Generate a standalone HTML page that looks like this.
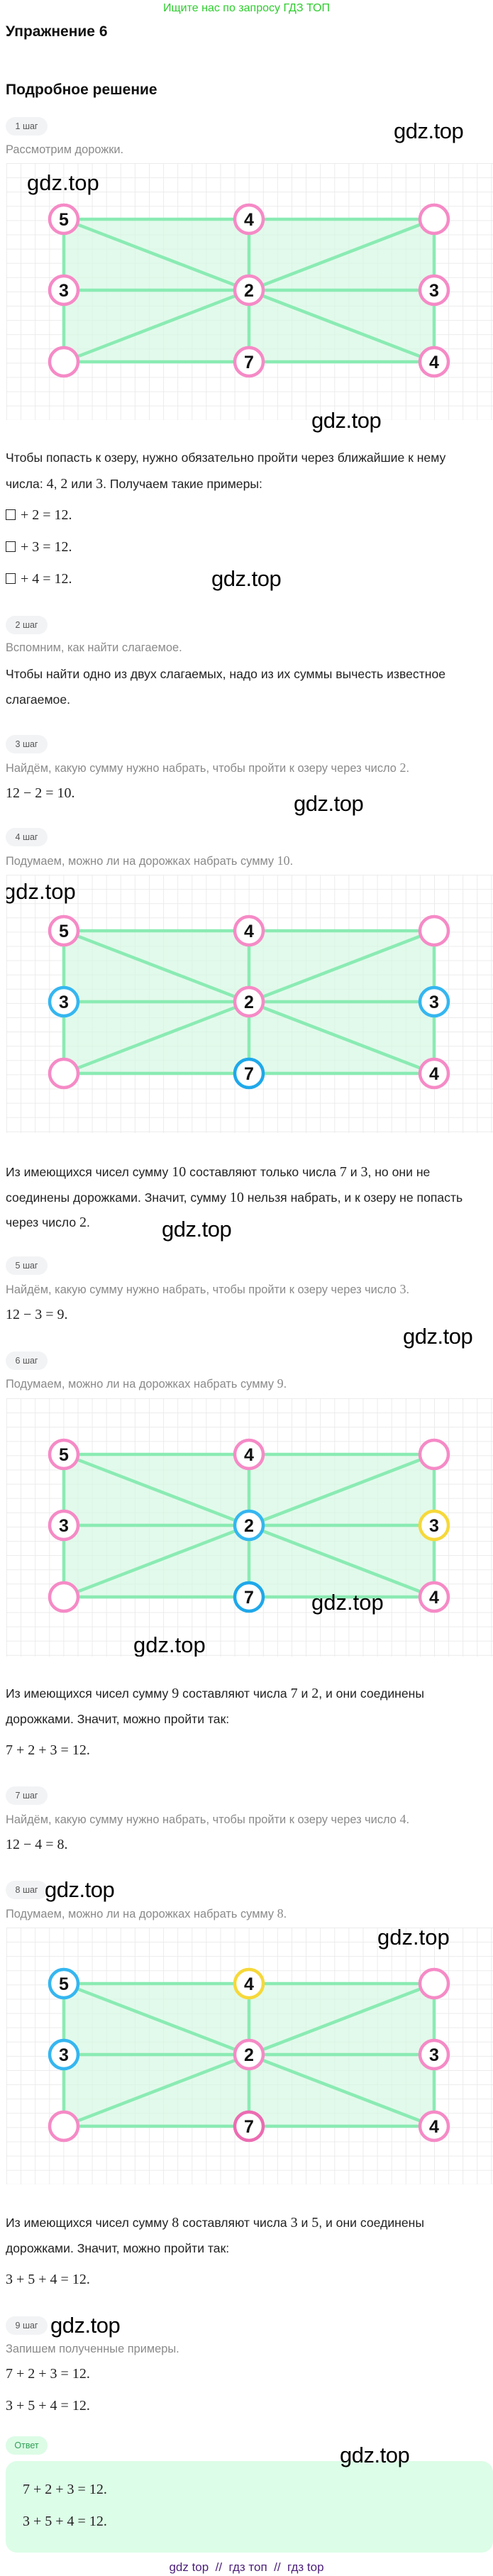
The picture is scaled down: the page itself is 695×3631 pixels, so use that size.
<!DOCTYPE html>
<html><head><meta charset="utf-8">
<style>
*{margin:0;padding:0;box-sizing:border-box}
body{width:695px;height:3631px;position:relative;background:#fff;font-family:"Liberation Sans",sans-serif;color:#1f1f1f;overflow:hidden}
.a{position:absolute;white-space:nowrap}
.t{position:absolute;left:8px;white-space:nowrap;font-size:17.6px;line-height:24px;height:24px;color:#222}
.g{position:absolute;left:8px;white-space:nowrap;font-size:16.4px;line-height:22px;height:22px;color:#8a8a8a}
.m{font-family:"Liberation Serif",serif;font-size:20px}
.eq{position:absolute;left:8px;white-space:nowrap;font-family:"Liberation Serif",serif;font-size:20px;line-height:26px;height:26px;color:#222}
.b{position:absolute;left:8px;width:59px;height:26px;border-radius:13px;background:#f2f3f5;color:#555;font-size:12.5px;line-height:26px;text-align:center}
.w{position:absolute;white-space:nowrap;font-size:31px;line-height:36px;height:36px;color:#000;letter-spacing:-0.5px}
.sq{display:inline-block;width:14px;height:15px;border:1.3px solid #222;vertical-align:-1px;margin-right:2px}
svg.d{position:absolute;left:9px}
</style></head><body>

<div class="a" style="left:0;width:695px;text-align:center;top:2px;font-size:16px;line-height:20px;color:#2ecc2e">Ищите нас по запросу ГДЗ ТОП</div>
<div class="a" style="left:8px;top:32px;font-size:21px;line-height:26px;font-weight:bold;color:#111">Упражнение 6</div>
<div class="a" style="left:8px;top:114px;font-size:21px;line-height:26px;font-weight:bold;color:#111">Подробное решение</div>

<div class="b" style="top:165px">1 шаг</div>
<div class="w" style="left:555px;top:167px">gdz.top</div>
<div class="g" style="top:200px">Рассмотрим дорожки.</div>

<svg class="d" style="top:230px" width="686" height="362" viewBox="0 0 686 362">
<defs><pattern id="gp" width="20.1" height="20.1" patternUnits="userSpaceOnUse"><path d="M0 0H20.1M0 0V20.1" stroke="#ebebeb" stroke-width="2" fill="none"/></pattern></defs>
<rect width="686" height="362" fill="url(#gp)"/>
<rect x="81" y="79" width="522" height="201" fill="#d6f8e2" opacity="0.7"/>
<g stroke="#8aebb3" stroke-width="4.5" fill="none"><rect x="81" y="79" width="522" height="201"/><line x1="342" y1="79" x2="342" y2="280"/><line x1="81" y1="179" x2="603" y2="179"/><line x1="81" y1="79" x2="603" y2="280"/><line x1="81" y1="280" x2="603" y2="79"/></g>
<g fill="#fff" stroke-width="4.5"><circle cx="81" cy="79" r="20" stroke="#f58ac6"/><circle cx="342" cy="79" r="20" stroke="#f58ac6"/><circle cx="603" cy="79" r="20" stroke="#f58ac6"/><circle cx="81" cy="179" r="20" stroke="#f58ac6"/><circle cx="342" cy="179" r="20" stroke="#f58ac6"/><circle cx="603" cy="179" r="20" stroke="#f58ac6"/><circle cx="81" cy="280" r="20" stroke="#f58ac6"/><circle cx="342" cy="280" r="20" stroke="#f58ac6"/><circle cx="603" cy="280" r="20" stroke="#f58ac6"/></g>
<g font-family="Liberation Sans" font-weight="bold" font-size="25" text-anchor="middle" fill="#111"><text x="81" y="88">5</text><text x="342" y="88">4</text><text x="81" y="188">3</text><text x="342" y="188">2</text><text x="603" y="188">3</text><text x="342" y="289">7</text><text x="603" y="289">4</text></g>
<text x="29" y="38" font-family="Liberation Sans" font-size="31" fill="#000">gdz.top</text>
</svg>

<div class="w" style="left:439px;top:575px">gdz.top</div>
<div class="t" style="top:633px">Чтобы попасть к озеру, нужно обязательно пройти через ближайшие к нему</div>
<div class="t" style="top:670px">числа: <span class="m">4</span>, <span class="m">2</span> или <span class="m">3</span>. Получаем такие примеры:</div>
<div class="eq" style="top:713px"><span class="sq"></span> + 2 = 12.</div>
<div class="eq" style="top:758px"><span class="sq"></span> + 3 = 12.</div>
<div class="eq" style="top:803px"><span class="sq"></span> + 4 = 12.</div>
<div class="w" style="left:298px;top:798px">gdz.top</div>

<div class="b" style="top:868px">2 шаг</div>
<div class="g" style="top:902px">Вспомним, как найти слагаемое.</div>
<div class="t" style="top:938px">Чтобы найти одно из двух слагаемых, надо из их суммы вычесть известное</div>
<div class="t" style="top:974px">слагаемое.</div>

<div class="b" style="top:1036px">3 шаг</div>
<div class="g" style="top:1071px">Найдём, какую сумму нужно набрать, чтобы пройти к озеру через число <span class="m" style="font-size:18px">2</span>.</div>
<div class="eq" style="top:1105px">12 − 2 = 10.</div>
<div class="w" style="left:414px;top:1115px">gdz.top</div>

<div class="b" style="top:1167px">4 шаг</div>
<div class="g" style="top:1202px">Подумаем, можно ли на дорожках набрать сумму <span class="m" style="font-size:18px">10</span>.</div>

<svg class="d" style="top:1233px" width="686" height="364" viewBox="0 0 686 364">
<rect width="686" height="364" fill="url(#gp)"/>
<rect x="81" y="79" width="522" height="201" fill="#d6f8e2" opacity="0.7"/>
<g stroke="#8aebb3" stroke-width="4.5" fill="none"><rect x="81" y="79" width="522" height="201"/><line x1="342" y1="79" x2="342" y2="280"/><line x1="81" y1="179" x2="603" y2="179"/><line x1="81" y1="79" x2="603" y2="280"/><line x1="81" y1="280" x2="603" y2="79"/></g>
<g fill="#fff" stroke-width="4.5"><circle cx="81" cy="79" r="20" stroke="#f58ac6"/><circle cx="342" cy="79" r="20" stroke="#f58ac6"/><circle cx="603" cy="79" r="20" stroke="#f58ac6"/><circle cx="81" cy="179" r="20" stroke="#35b6f0"/><circle cx="342" cy="179" r="20" stroke="#f58ac6"/><circle cx="603" cy="179" r="20" stroke="#35b6f0"/><circle cx="81" cy="280" r="20" stroke="#f58ac6"/><circle cx="342" cy="280" r="20" stroke="#1fa8ea"/><circle cx="603" cy="280" r="20" stroke="#f58ac6"/></g>
<g font-family="Liberation Sans" font-weight="bold" font-size="25" text-anchor="middle" fill="#111"><text x="81" y="88">5</text><text x="342" y="88">4</text><text x="81" y="188">3</text><text x="342" y="188">2</text><text x="603" y="188">3</text><text x="342" y="289">7</text><text x="603" y="289">4</text></g>
<text x="-4" y="34" font-family="Liberation Sans" font-size="31" fill="#000">gdz.top</text>
</svg>

<div class="t" style="top:1640px">Из имеющихся чисел сумму <span class="m">10</span> составляют только числа <span class="m">7</span> и <span class="m">3</span>, но они не</div>
<div class="t" style="top:1676px">соединены дорожками. Значит, сумму <span class="m">10</span> нельзя набрать, и к озеру не попасть</div>
<div class="t" style="top:1711px">через число <span class="m">2</span>.</div>
<div class="w" style="left:228px;top:1715px">gdz.top</div>

<div class="b" style="top:1771px">5 шаг</div>
<div class="g" style="top:1806px">Найдём, какую сумму нужно набрать, чтобы пройти к озеру через число <span class="m" style="font-size:18px">3</span>.</div>
<div class="eq" style="top:1840px">12 − 3 = 9.</div>
<div class="w" style="left:568px;top:1866px">gdz.top</div>
<div class="b" style="top:1905px">6 шаг</div>
<div class="g" style="top:1939px">Подумаем, можно ли на дорожках набрать сумму <span class="m" style="font-size:18px">9</span>.</div>

<svg class="d" style="top:1971px" width="686" height="364" viewBox="0 0 686 364">
<rect width="686" height="364" fill="url(#gp)"/>
<rect x="81" y="79" width="522" height="201" fill="#d6f8e2" opacity="0.7"/>
<g stroke="#8aebb3" stroke-width="4.5" fill="none"><rect x="81" y="79" width="522" height="201"/><line x1="342" y1="79" x2="342" y2="280"/><line x1="81" y1="179" x2="603" y2="179"/><line x1="81" y1="79" x2="603" y2="280"/><line x1="81" y1="280" x2="603" y2="79"/></g>
<g fill="#fff" stroke-width="4.5"><circle cx="81" cy="79" r="20" stroke="#f58ac6"/><circle cx="342" cy="79" r="20" stroke="#f58ac6"/><circle cx="603" cy="79" r="20" stroke="#f58ac6"/><circle cx="81" cy="179" r="20" stroke="#f58ac6"/><circle cx="342" cy="179" r="20" stroke="#35b6f0"/><circle cx="603" cy="179" r="20" stroke="#f6d83a"/><circle cx="81" cy="280" r="20" stroke="#f58ac6"/><circle cx="342" cy="280" r="20" stroke="#1fa8ea"/><circle cx="603" cy="280" r="20" stroke="#f58ac6"/></g>
<g font-family="Liberation Sans" font-weight="bold" font-size="25" text-anchor="middle" fill="#111"><text x="81" y="88">5</text><text x="342" y="88">4</text><text x="81" y="188">3</text><text x="342" y="188">2</text><text x="603" y="188">3</text><text x="342" y="289">7</text><text x="603" y="289">4</text></g>
<text x="430" y="298" font-family="Liberation Sans" font-size="31" fill="#000">gdz.top</text>
<text x="179" y="358" font-family="Liberation Sans" font-size="31" fill="#000">gdz.top</text>
</svg>

<div class="t" style="top:2375px">Из имеющихся чисел сумму <span class="m">9</span> составляют числа <span class="m">7</span> и <span class="m">2</span>, и они соединены</div>
<div class="t" style="top:2411px">дорожками. Значит, можно пройти так:</div>
<div class="eq" style="top:2454px">7 + 2 + 3 = 12.</div>

<div class="b" style="top:2518px">7 шаг</div>
<div class="g" style="top:2553px">Найдём, какую сумму нужно набрать, чтобы пройти к озеру через число <span class="m" style="font-size:18px">4</span>.</div>
<div class="eq" style="top:2587px">12 − 4 = 8.</div>

<div class="b" style="top:2651px">8 шаг</div>
<div class="w" style="left:63px;top:2646px">gdz.top</div>
<div class="g" style="top:2686px">Подумаем, можно ли на дорожках набрать сумму <span class="m" style="font-size:18px">8</span>.</div>

<svg class="d" style="top:2717px" width="686" height="362" viewBox="0 0 686 362">
<rect width="686" height="362" fill="url(#gp)"/>
<rect x="81" y="79" width="522" height="201" fill="#d6f8e2" opacity="0.7"/>
<g stroke="#8aebb3" stroke-width="4.5" fill="none"><rect x="81" y="79" width="522" height="201"/><line x1="342" y1="79" x2="342" y2="280"/><line x1="81" y1="179" x2="603" y2="179"/><line x1="81" y1="79" x2="603" y2="280"/><line x1="81" y1="280" x2="603" y2="79"/></g>
<g fill="#fff" stroke-width="4.5"><circle cx="81" cy="79" r="20" stroke="#35b6f0"/><circle cx="342" cy="79" r="20" stroke="#f6d83a"/><circle cx="603" cy="79" r="20" stroke="#f58ac6"/><circle cx="81" cy="179" r="20" stroke="#35b6f0"/><circle cx="342" cy="179" r="20" stroke="#f58ac6"/><circle cx="603" cy="179" r="20" stroke="#f58ac6"/><circle cx="81" cy="280" r="20" stroke="#f58ac6"/><circle cx="342" cy="280" r="20" stroke="#ec6cb2"/><circle cx="603" cy="280" r="20" stroke="#f58ac6"/></g>
<g font-family="Liberation Sans" font-weight="bold" font-size="25" text-anchor="middle" fill="#111"><text x="81" y="88">5</text><text x="342" y="88">4</text><text x="81" y="188">3</text><text x="342" y="188">2</text><text x="603" y="188">3</text><text x="342" y="289">7</text><text x="603" y="289">4</text></g>
<text x="523" y="24" font-family="Liberation Sans" font-size="31" fill="#000">gdz.top</text>
</svg>

<div class="t" style="top:3121px">Из имеющихся чисел сумму <span class="m">8</span> составляют числа <span class="m">3</span> и <span class="m">5</span>, и они соединены</div>
<div class="t" style="top:3157px">дорожками. Значит, можно пройти так:</div>
<div class="eq" style="top:3200px">3 + 5 + 4 = 12.</div>

<div class="b" style="top:3265px">9 шаг</div>
<div class="w" style="left:71px;top:3260px">gdz.top</div>
<div class="g" style="top:3300px">Запишем полученные примеры.</div>
<div class="eq" style="top:3333px">7 + 2 + 3 = 12.</div>
<div class="eq" style="top:3378px">3 + 5 + 4 = 12.</div>

<div class="b" style="top:3434px;background:#dcfce6;color:#2f9e55">Ответ</div>
<div class="a" style="left:8px;top:3469px;width:687px;height:129px;border-radius:16px;background:#dcfde7"></div>
<div class="w" style="left:479px;top:3443px">gdz.top</div>
<div class="eq" style="left:32px;top:3496px">7 + 2 + 3 = 12.</div>
<div class="eq" style="left:32px;top:3541px">3 + 5 + 4 = 12.</div>
<div class="a" style="left:0;width:695px;text-align:center;top:3608px;font-size:17px;line-height:22px;color:#4b1f7a">gdz top &nbsp;//&nbsp; гдз топ &nbsp;//&nbsp; гдз top</div>
</body></html>
